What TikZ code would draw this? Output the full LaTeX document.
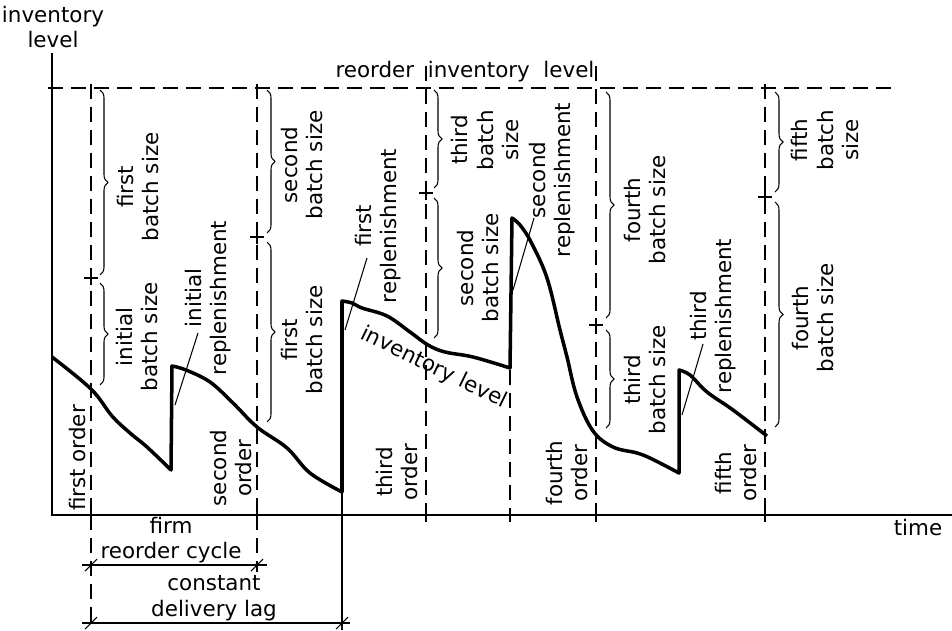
\documentclass[tikz,border=0pt]{standalone}
\usepackage{fontspec}
\setmainfont{DejaVu Sans}
\usepackage{tikz}
\tikzset{>=latex}
\usetikzlibrary{decorations.pathreplacing}
\newcommand{\lettering}{\fontsize{12.2}{14.5}\selectfont}
\tikzset{
  lbl/.style={font=\lettering, align=center, inner sep=0pt},
  vlbl/.style={lbl, rotate=90},
  stock/.style={line width=2pt, line join=round},
  axis/.style={line width=1.1pt},
  guide/.style={line width=0.7pt, dash pattern=on 0.3cm off 0.16cm},
  batch/.style={line width=0.6pt, decorate, decoration={brace, amplitude=0.16cm}},
  thin/.style={line width=0.6pt}
}

\begin{document}
\begin{tikzpicture}[x=0.02cm, y=-0.02cm]
  \useasboundingbox (0,0) rectangle (952,631);
  % axes
  \draw[axis] (52,53) -- (52,515) -- (952,515);
  \node[lbl] (ylab) at (53,27) {inventory\\level};
  \node[lbl] (xlab) at (918,528) {time};
  % reorder level and order lines
  \draw[guide] (48,88) -- (895,88);
  \node[lbl] (reorder) at (465,72) {reorder \ inventory \ level};
  \foreach \x/\t in {91/84,257/84,426/66,596/66,765/84}
    \draw[guide] (\x,\t) -- (\x,515);
  \draw[guide] (510,370) -- (510,515);
  \foreach \x in {91,257,342,426,510,596,765}
    \draw[thin] (\x,508) -- (\x,522);
  \foreach \x/\y in {91/278,257/237,426/193,596/325,765/197}
    \draw[thin] (\x-7,\y) -- (\x+7,\y) (\x,\y-7) -- (\x,\y+7);
  % inventory curve
  \draw[stock] plot[smooth, tension=0.6] coordinates {(52,357) (91,389) (112,416) (130,433) (147,447) (171,470)}
    -- plot[smooth, tension=0.6] coordinates {(172,366) (186,370) (210,382) (233,403) (257,427) (287,448) (310,473) (342,492)}
    -- plot[smooth, tension=0.6] coordinates {(342,301) (352,303) (362,308) (387,316) (410,332) (428,345) (445,352) (473,357) (510,368)}
    -- plot[smooth, tension=0.6] coordinates {(512,218) (520,225) (531,242) (547,278) (560,330) (567,357) (577,397) (593,431) (613,447) (637,453) (652,459) (679,473)}
    -- plot[smooth, tension=0.6] coordinates {(679,370) (690,375) (707,392) (733,410) (767,436)};
  \node[lbl, rotate=-26] (curve) at (434,368) {inventory level};
  % batch sizes
  \draw[batch] (100,90) -- (100,275);
  \draw[batch] (100,283) -- (100,385);
  \draw[batch] (267,90) -- (267,233);
  \draw[batch] (267,242) -- (267,422);
  \draw[batch] (434,90) -- (434,188);
  \draw[batch] (434,198) -- (434,338);
  \draw[batch] (606,92) -- (606,318);
  \draw[batch] (606,330) -- (606,428);
  \draw[batch] (775,92) -- (775,192);
  \draw[batch] (775,202) -- (775,427);
  \node[vlbl] (b1) at (138,187) {first\\batch size};
  \node[vlbl] (b0) at (137,337) {initial\\batch size};
  \node[vlbl] (b2) at (302,165) {second\\batch size};
  \node[vlbl] (b1r) at (302,340) {first\\batch size};
  \node[vlbl] (b3) at (485,140) {third\\batch\\size};
  \node[vlbl] (b2r) at (478,268) {second\\batch size};
  \node[vlbl] (b4) at (645,210) {fourth\\batch size};
  \node[vlbl] (b3r) at (645,380) {third\\batch size};
  \node[vlbl] (b5) at (825,140) {fifth\\batch\\size};
  \node[vlbl] (b4r) at (813,318) {fourth\\batch size};
  % orders
  \node[vlbl] (o1) at (78,458) {first order};
  \node[vlbl] (o2) at (231,468) {second\\order};
  \node[vlbl] (o3) at (397,472) {third\\order};
  \node[vlbl] (o4) at (567,473) {fourth\\order};
  \node[vlbl] (o5) at (736,473) {fifth\\order};
  % replenishments
  \node[vlbl] (r0) at (208,298) {initial\\replenishment};
  \node[vlbl] (r1) at (378,226) {first\\replenishment};
  \node[vlbl] (r2) at (552,180) {second\\replenishment};
  \node[vlbl] (r3) at (713,316) {third\\replenishment};
  \coordinate (r0a) at (175,405); \coordinate (r0b) at (198,333);
  \coordinate (r1a) at (345,330); \coordinate (r1b) at (367,258);
  \coordinate (r2a) at (513,290); \coordinate (r2b) at (534,218);
  \coordinate (r3a) at (682,415); \coordinate (r3b) at (703,344);
  \draw[thin] (r0a) -- (r0b);
  \draw[thin] (r1a) -- (r1b);
  \draw[thin] (r2a) -- (r2b);
  \draw[thin] (r3a) -- (r3b);
  % cycle and lag
  \draw[guide] (91,515) -- (91,628);
  \draw[guide] (257,515) -- (257,572);
  \draw[thin] (342,492) -- (342,630);
  \draw[thin] (82,565) -- (267,565);
  \draw[thin] (82,623) -- (350,623);
  \foreach \x/\y in {91/565,257/565,91/623,342/623}
    \draw[thin] (\x-6,\y+6) -- (\x+6,\y-6);
  \node[lbl] (cycle) at (171,540) {firm\\reorder cycle};
  \node[lbl] (lag) at (214,598) {constant\\delivery lag};
\end{tikzpicture}
\end{document}
